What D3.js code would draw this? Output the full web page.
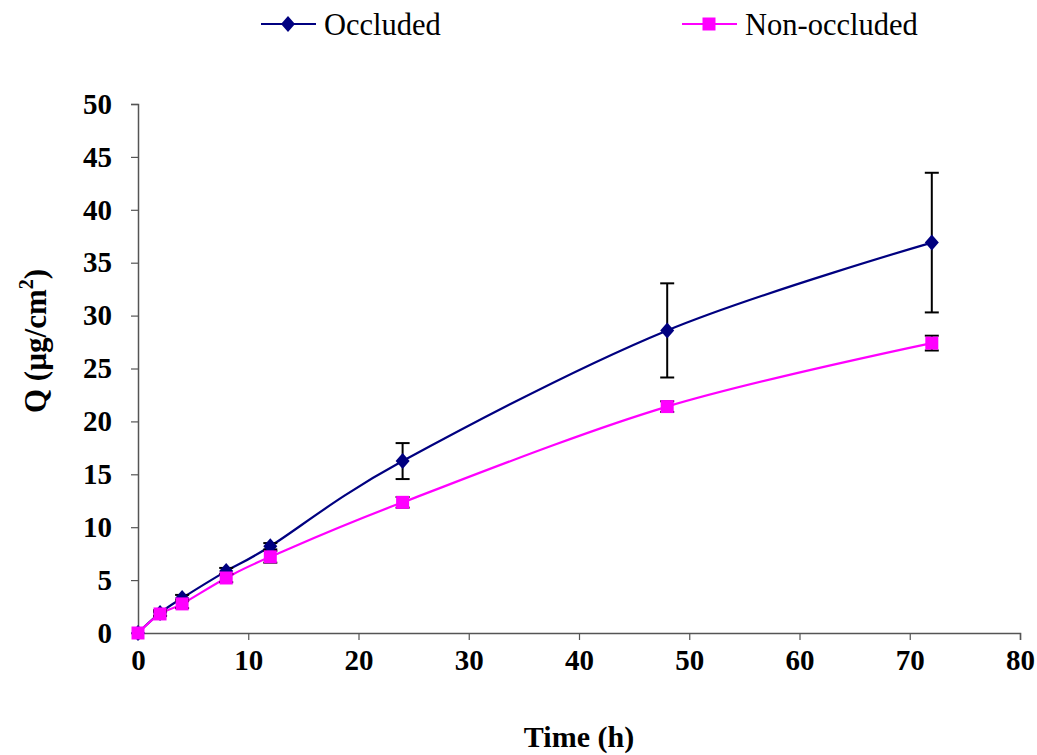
<!DOCTYPE html>
<html>
<head>
<meta charset="utf-8">
<script src="https://cdn.jsdelivr.net/npm/d3@7"></script>
<style>
  body { margin: 0; background: #fff; }
  svg text { font-family: "Liberation Serif", "Times New Roman", serif; }
</style>
</head>
<body>
<div id="chart"></div>
<script>
// Q vs time, occluded / non-occluded
var times = [0, 2, 4, 8, 12, 24, 48, 72];
var occluded = [0, 1.9, 3.3, 5.85, 8.2, 16.25, 28.6, 36.9];
var occludedErr = [0, 0.25, 0.3, 0.3, 0.3, 1.7, 4.45, 6.6];
var nonOccluded = [0, 1.8, 2.75, 5.2, 7.2, 12.35, 21.4, 27.4];
var nonOccludedErr = [0, 0.2, 0.4, 0.4, 0.55, 0.5, 0.5, 0.7];
var xTicks = [0, 10, 20, 30, 40, 50, 60, 70, 80];
var yTicks = [0, 5, 10, 15, 20, 25, 30, 35, 40, 45, 50];

var width = 1037, height = 755;
var margin = {top: 104, right: 17, bottom: 122, left: 138};

var svg = d3.select("#chart").append("svg")
  .attr("width", width)
  .attr("height", height);

var x = d3.scaleLinear().domain([0, 80]).range([margin.left, width - margin.right]);
var y = d3.scaleLinear().domain([0, 50]).range([height - margin.bottom, margin.top]);

// axes
var xAxis = d3.axisBottom(x).tickValues(xTicks).tickSize(7).tickPadding(9);
var yAxis = d3.axisLeft(y).tickValues(yTicks).tickSize(7).tickPadding(19);

var gx = svg.append("g")
  .attr("transform", "translate(0," + y(0) + ")")
  .call(xAxis);
var gy = svg.append("g")
  .attr("transform", "translate(" + x(0) + ",0)")
  .call(yAxis);

[gx, gy].forEach(function(g) {
  g.select(".domain").attr("stroke", "#555").attr("stroke-width", 1.5);
  g.selectAll(".tick line").attr("stroke", "#555").attr("stroke-width", 1.2);
  g.selectAll(".tick text")
    .attr("fill", "#000")
    .style("font-size", "29px")
    .style("font-weight", "bold");
});
// y labels end ~26px left of the axis
gy.selectAll(".tick text").attr("x", -26).attr("text-anchor", "end");

// axis titles
svg.append("text")
  .attr("x", 579).attr("y", 747)
  .attr("text-anchor", "middle")
  .style("font-size", "30px").style("font-weight", "bold")
  .text("Time (h)");

var yt = svg.append("text")
  .attr("transform", "translate(46,341) rotate(-90)")
  .attr("text-anchor", "middle")
  .style("font-size", "31px").style("font-weight", "bold");
yt.append("tspan").text("Q (µg/cm");
yt.append("tspan").attr("dy", -13).style("font-size", "20px").text("2");
yt.append("tspan").attr("dy", 13).text(")");

var series = [
  {name: "Occluded", values: occluded, err: occludedErr, color: "#000080", marker: "diamond"},
  {name: "Non-occluded", values: nonOccluded, err: nonOccludedErr, color: "#FF00FF", marker: "square"}
];

var line = d3.line()
  .x(function(d) { return x(d[0]); })
  .y(function(d) { return y(d[1]); })
  .curve(d3.curveCardinal.tension(0));

function markerPath(type) {
  if (type === "diamond") return "M0,-8L7,0L0,8L-7,0Z";
  return "M-6.5,-6.5H6.5V6.5H-6.5Z";
}

series.forEach(function(s) {
  var pts = times.map(function(t, i) { return [t, s.values[i], s.err[i]]; });

  svg.append("path")
    .datum(pts)
    .attr("fill", "none")
    .attr("stroke", s.color)
    .attr("stroke-width", 2.2)
    .attr("d", line);
});

// error bars
series.forEach(function(s) {
  var pts = times.map(function(t, i) { return [t, s.values[i], s.err[i]]; })
    .filter(function(d) { return d[2] > 0; });
  var g = svg.append("g").attr("stroke", "#000").attr("stroke-width", 2);
  g.selectAll(".eb").data(pts).enter().append("line")
    .attr("x1", function(d) { return x(d[0]); })
    .attr("x2", function(d) { return x(d[0]); })
    .attr("y1", function(d) { return y(d[1] - d[2]); })
    .attr("y2", function(d) { return y(d[1] + d[2]); });
  [-1, 1].forEach(function(sign) {
    g.selectAll(".cap").data(pts).enter().append("line")
      .attr("x1", function(d) { return x(d[0]) - 7; })
      .attr("x2", function(d) { return x(d[0]) + 7; })
      .attr("y1", function(d) { return y(d[1] + sign * d[2]); })
      .attr("y2", function(d) { return y(d[1] + sign * d[2]); });
  });
});

// markers
series.forEach(function(s) {
  svg.append("g").selectAll("path")
    .data(times.map(function(t, i) { return [t, s.values[i]]; }))
    .enter().append("path")
    .attr("transform", function(d) { return "translate(" + x(d[0]) + "," + y(d[1]) + ")"; })
    .attr("d", markerPath(s.marker))
    .attr("fill", s.color);
});

// legend
var legendX = [261, 682];
series.forEach(function(s, i) {
  var g = svg.append("g").attr("transform", "translate(" + legendX[i] + ",24)");
  g.append("line").attr("x1", 0).attr("x2", 55).attr("y1", 0).attr("y2", 0)
    .attr("stroke", s.color).attr("stroke-width", 2);
  g.append("path").attr("transform", "translate(27,0)")
    .attr("d", markerPath(s.marker)).attr("fill", s.color);
  g.append("text").attr("x", 63).attr("y", 11)
    .style("font-size", "30.5px")
    .text(s.name);
});
</script>
</body>
</html>
